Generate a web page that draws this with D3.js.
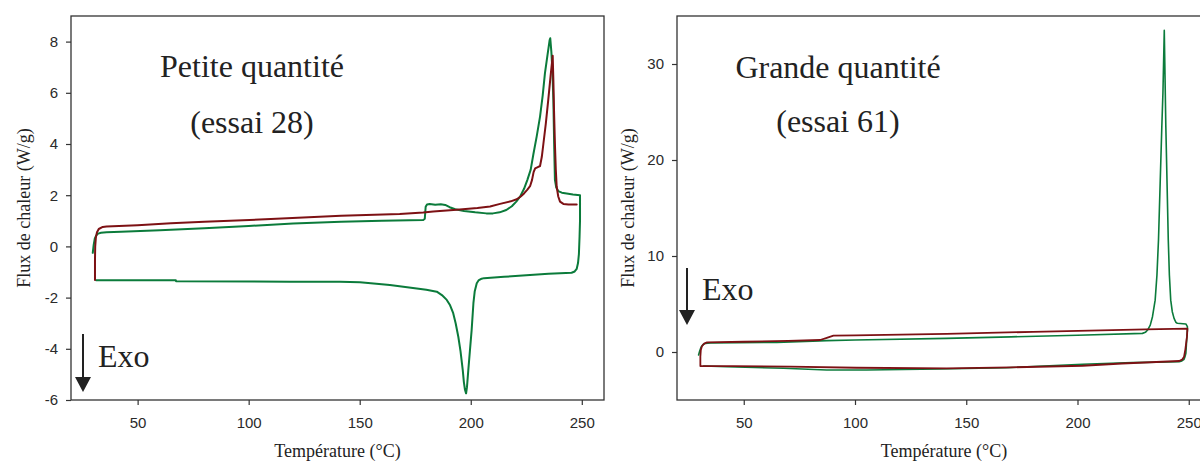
<!DOCTYPE html>
<html>
<head>
<meta charset="utf-8">
<script src="https://cdn.jsdelivr.net/npm/d3@7"></script>
<style>
  html, body { margin: 0; padding: 0; background: #fff; }
  svg { display: block; }
  .tick text { font-family: "Liberation Sans", Arial, sans-serif; font-size: 15px; fill: #2a2a2a; }
  .tick line { stroke: #333; stroke-width: 1.2; }
  .serif { font-family: "Liberation Serif", "Times New Roman", serif; fill: #222; }
</style>
</head>
<body>
<svg id="chart" width="1200" height="463"></svg>
<script>
// ---------------- data (temperature °C, heat flow W/g) ----------------
const xTicks = [50, 100, 150, 200, 250];
const leftYTicks = [-6, -4, -2, 0, 2, 4, 6, 8];
const rightYTicks = [0, 10, 20, 30];

// Petite quantité (essai 28) – first cycle (green)
const petiteCycle1 = [
  [29.8,-0.25],[30.2,0.05],[30.7,0.3],[31.3,0.42],[32.2,0.5],[33.5,0.53],[36,0.55],[42.5,0.57],
  [60,0.63],[80,0.71],[100,0.80],[120,0.89],[141.6,0.96],[160,1.00],[178.6,1.03],[179.3,1.08],
  [179.7,1.55],[180.3,1.64],[181.5,1.66],[184,1.63],[186.5,1.65],[188.5,1.62],[190.5,1.53],[193,1.45],
  [197,1.38],[202,1.33],[207,1.29],[210,1.29],[213,1.33],[216,1.42],[218.5,1.57],[220.5,1.75],
  [222.2,1.94],[224,2.25],[225.5,2.6],[227,3.0],[228.2,3.6],[229.7,4.3],[231.2,5.07],[232.4,5.9],
  [233.4,6.76],[234.6,7.5],[235.5,8.05],[235.8,8.13],[236.3,7.6],[236.8,6.8],[237.2,5.7],[237.6,3.8],
  [237.9,2.6],[238.5,2.3],[239.4,2.16],[241,2.1],[243.2,2.07],[246,2.03],[249.2,2.0],[249.2,1.0],
  [249.0,0.4],[248.7,-0.3],[248.3,-0.65],[247.7,-0.88],[246.8,-0.98],[245.4,-1.03],[235,-1.07],
  [225,-1.13],[215,-1.19],[206,-1.24],[204.9,-1.26],[203.5,-1.33],[202.7,-1.44],[201.8,-1.75],
  [201.2,-2.22],[200.4,-3.27],[199.6,-4.1],[198.9,-4.83],[198.3,-5.5],[197.9,-5.74],[197.4,-5.6],
  [196.9,-5.3],[196.4,-4.83],[195.4,-4.1],[194.4,-3.53],[193.2,-3.0],[192.1,-2.61],[190.7,-2.3],
  [189.2,-2.09],[187,-1.9],[184.7,-1.77],[180,-1.69],[175.7,-1.64],[163.6,-1.51],[150.1,-1.40],
  [141.1,-1.38],[118.6,-1.38],[67.3,-1.36],[67.2,-1.32],[31.3,-1.32]
];
// Petite quantité (essai 28) – second heating (dark red)
const petiteCycle2 = [
  [30.8,-1.31],[30.8,-0.5],[30.9,0.0],[31.2,0.35],[31.7,0.55],[32.5,0.68],[34.3,0.76],[36,0.78],
  [50,0.83],[65,0.90],[80,0.96],[110,1.07],[141.6,1.20],[168,1.27],[178.6,1.32],[183.1,1.36],
  [193.7,1.43],[203,1.50],[208.7,1.56],[213.2,1.66],[218,1.76],[220.7,1.84],[222.5,1.95],[224,2.07],
  [225.5,2.22],[226.7,2.35],[227.6,2.6],[228.3,2.9],[229,3.05],[230.2,3.1],[231.2,3.14],[232,3.5],
  [232.7,4.0],[233.8,4.8],[234.9,5.72],[236,6.7],[236.9,7.45],[237.2,6.5],[237.5,5.3],[237.9,4.0],
  [238.3,3.0],[238.7,2.33],[239.4,1.95],[240.2,1.75],[241.7,1.66],[244,1.64],[247.7,1.64]
];
// Grande quantité (essai 61) – first cycle (green)
const grandeCycle1 = [
  [29.7,-0.31],[30.2,0.1],[30.8,0.5],[31.6,0.75],[32.7,0.9],[35,0.95],[64.9,1.0],[87.3,1.18],
  [100,1.25],[141.1,1.42],[170,1.58],[200,1.75],[229.2,1.94],[230.5,2.05],[231.5,2.29],[232.7,2.8],
  [233.7,3.68],[234.9,5.4],[235.7,8],[236.4,11.67],[237.9,23.5],[238.4,27],[239.0,33.5],[239.7,23.5],
  [240.8,11.67],[241.3,8],[241.9,5.4],[242.6,4.2],[243.4,3.5],[244.2,3.1],[244.9,2.99],[248.7,2.92],
  [249.4,2.64],[249.4,2.3],[249.0,1.0],[248.7,-0.14],[248.3,-0.5],[247.9,-0.76],[246.9,-0.93],
  [245.7,-1.01],[224.7,-1.11],[202.3,-1.28],[167.9,-1.64],[138,-1.77],[105.2,-1.88],[87.3,-1.88],
  [67.9,-1.70],[42.4,-1.53],[32,-1.46]
];
// Grande quantité (essai 61) – second cycle (dark red)
const grandeCycle2 = [
  [30.5,-1.46],[30.5,-0.5],[30.7,0.2],[31.2,0.6],[32.2,0.88],[33.5,1.0],[50,1.07],[70,1.15],
  [84.3,1.25],[87,1.45],[90.3,1.70],[100,1.74],[141.1,1.88],[180,2.1],[230.7,2.36],[249.4,2.43],
  [249.2,1.6],[249.0,1.25],[248.5,0.3],[247.9,-0.49],[247,-0.8],[245.7,-0.94],[220,-1.2],
  [202.3,-1.43],[170,-1.6],[141.1,-1.70],[100.7,-1.64],[70.8,-1.53],[45,-1.48],[30.5,-1.46]
];

const panels = [
  { left: 71, width: 533, xDomain: [20, 260], yDomain: [-6, 9], yTicks: leftYTicks,
    title: ["Petite quantité", "(essai 28)"], titleX: 252, titleY: [77, 133],
    exo: { x: 83, y1: 334, y2: 392, tx: 98, ty: 367 },
    series: [ {data: petiteCycle1, color: "#0b7b3b", w: 2}, {data: petiteCycle2, color: "#7d1114", w: 2} ],
    ylabX: 29.5 },
  { left: 677, width: 534, xDomain: [20, 260], yDomain: [-5, 35], yTicks: rightYTicks,
    title: ["Grande quantité", "(essai 61)"], titleX: 838, titleY: [78, 132],
    exo: { x: 687, y1: 268, y2: 325, tx: 702, ty: 300 },
    series: [ {data: grandeCycle1, color: "#0b7b3b", w: 1.6}, {data: grandeCycle2, color: "#7d1114", w: 1.8} ],
    ylabX: 634 }
];

const svg = d3.select("#chart");
const plotTop = 16, plotBottom = 400;

panels.forEach(p => {
  const x = d3.scaleLinear().domain(p.xDomain).range([p.left, p.left + p.width]);
  const y = d3.scaleLinear().domain(p.yDomain).range([plotBottom, plotTop]);
  const g = svg.append("g");

  // frame
  g.append("rect").attr("x", p.left).attr("y", plotTop)
    .attr("width", p.width).attr("height", plotBottom - plotTop)
    .attr("fill", "none").attr("stroke", "#333").attr("stroke-width", 1.3);

  // axes
  const xa = g.append("g").attr("transform", `translate(0,${plotBottom})`)
    .call(d3.axisBottom(x).tickValues(xTicks).tickSize(5).tickPadding(12).tickFormat(d => String(d)));
  xa.select(".domain").remove();
  const ya = g.append("g").attr("transform", `translate(${p.left},0)`)
    .call(d3.axisLeft(y).tickValues(p.yTicks).tickSize(5).tickPadding(8).tickFormat(d => String(d)));
  ya.select(".domain").remove();

  // axis titles
  g.append("text").attr("class", "serif")
    .attr("x", p.left + p.width / 2).attr("y", 457)
    .attr("text-anchor", "middle").style("font-size", "18px")
    .text("Température (°C)");
  g.append("text").attr("class", "serif")
    .attr("transform", `translate(${p.ylabX},${(plotTop + plotBottom) / 2}) rotate(-90)`)
    .attr("text-anchor", "middle").style("font-size", "18px")
    .text("Flux de chaleur (W/g)");

  // curves
  const line = d3.line().x(d => x(d[0])).y(d => y(d[1]));
  p.series.forEach(s => {
    g.append("path").datum(s.data).attr("d", line)
      .attr("fill", "none").attr("stroke", s.color).attr("stroke-width", s.w)
      .attr("stroke-linejoin", "round").attr("stroke-linecap", "round");
  });

  // title annotation
  p.title.forEach((t, i) => {
    g.append("text").attr("class", "serif")
      .attr("x", p.titleX).attr("y", p.titleY[i])
      .attr("text-anchor", "middle").style("font-size", "32px").text(t);
  });

  // Exo arrow
  const e = p.exo;
  g.append("line").attr("x1", e.x).attr("x2", e.x).attr("y1", e.y1).attr("y2", e.y2 - 12)
    .attr("stroke", "#222").attr("stroke-width", 2);
  g.append("path")
    .attr("d", `M${e.x - 8},${e.y2 - 15} L${e.x + 8},${e.y2 - 15} L${e.x},${e.y2} Z`)
    .attr("fill", "#222");
  g.append("text").attr("class", "serif").attr("x", e.tx).attr("y", e.ty)
    .style("font-size", "32px").text("Exo");
});
</script>
</body>
</html>
